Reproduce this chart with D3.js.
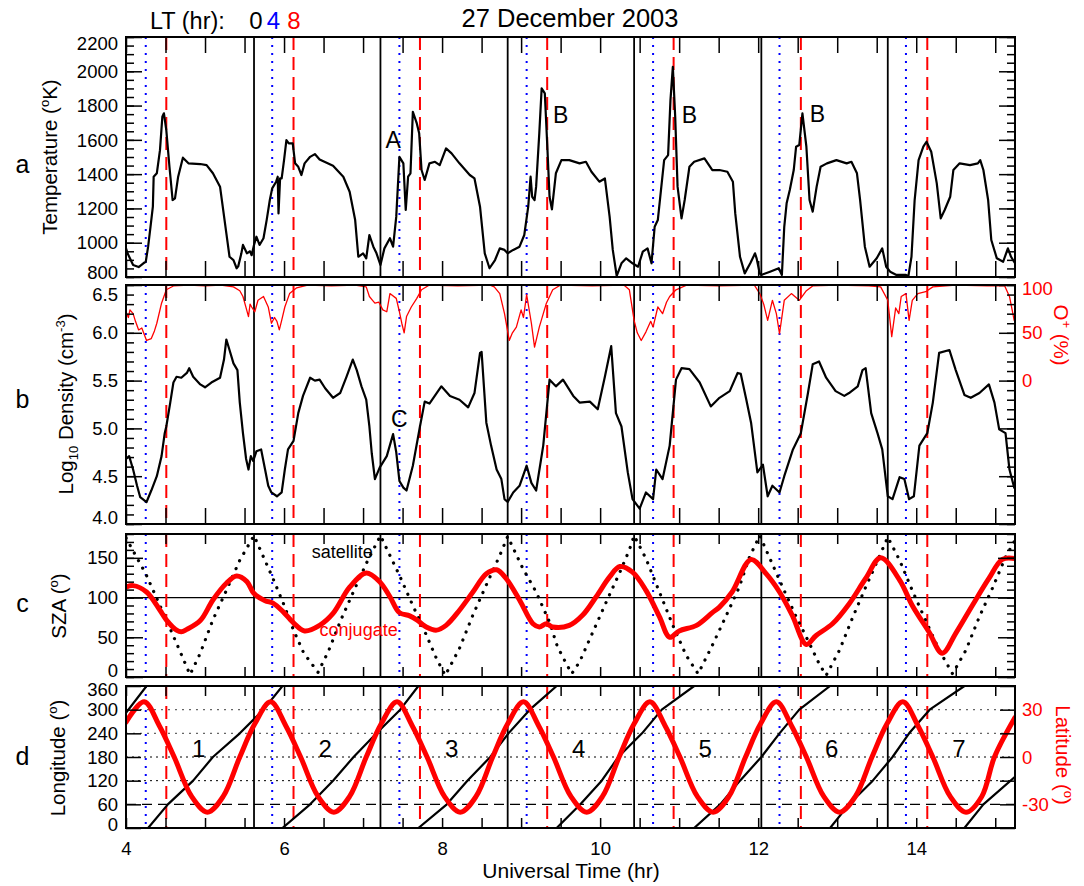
<!DOCTYPE html>
<html>
<head>
<meta charset="utf-8">
<script src="https://cdn.jsdelivr.net/npm/d3@7"></script>
<style>
  body { margin: 0; background: #fff; }
  svg { display: block; }
</style>
</head>
<body>
<script>
// ---- values, time in UT hours ----

var utLabels = [4, 6, 8, 10, 12, 14];
var tempTicks = [800, 1000, 1200, 1400, 1600, 1800, 2000, 2200];
var densTicks = [4.0, 4.5, 5.0, 5.5, 6.0, 6.5];
var oxyTicks = [0, 50, 100];
var szaTicks = [0, 50, 100, 150];
var lonTicks = [0, 60, 120, 180, 240, 300, 360];
var latTicks = [-30, 0, 30];

// satellite local time crossings
var ltMidnight = [5.62, 7.22, 8.83, 10.43, 12.04, 13.64];
var ltFour = [4.25, 5.85, 7.46, 9.07, 10.67, 12.27, 13.87];
var ltEight = [4.51, 6.12, 7.72, 9.33, 10.93, 12.54, 14.14];

// panel a: ion temperature (K)
var temperature = [
  [4.00,967],[4.02,938],[4.09,870],[4.16,858],[4.22,880],[4.25,889],[4.28,977],[4.31,1093],[4.34,1210],[4.35,1385],
  [4.39,1405],[4.43,1540],[4.46,1735],[4.48,1755],[4.51,1657],[4.55,1443],[4.59,1249],[4.62,1259],[4.66,1385],[4.72,1496],
  [4.79,1463],[4.94,1459],[5.02,1453],[5.10,1405],[5.19,1327],[5.27,1055],[5.31,918],[5.36,899],[5.40,851],[5.42,862],
  [5.46,938],[5.48,987],[5.53,938],[5.57,950],[5.59,927],[5.62,987],[5.65,1035],[5.69,987],[5.74,1026],[5.78,1132],
  [5.82,1249],[5.85,1317],[5.90,1356],[5.92,1385],[5.93,1171],[5.95,1375],[5.97,1375],[6.00,1482],[6.03,1599],[6.06,1580],
  [6.11,1580],[6.14,1463],[6.18,1443],[6.22,1395],[6.26,1463],[6.33,1501],[6.39,1517],[6.45,1486],[6.62,1449],[6.75,1385],
  [6.83,1297],[6.90,1132],[6.94,918],[7.00,938],[7.04,909],[7.08,1045],[7.13,977],[7.17,938],[7.22,870],[7.27,967],
  [7.34,1026],[7.38,977],[7.42,1152],[7.46,1501],[7.51,1463],[7.54,1191],[7.57,1385],[7.60,1405],[7.63,1764],[7.68,1696],
  [7.71,1638],[7.74,1424],[7.78,1366],[7.84,1463],[7.91,1472],[7.97,1453],[8.05,1550],[8.12,1521],[8.22,1463],[8.35,1395],
  [8.41,1375],[8.48,1210],[8.54,938],[8.60,851],[8.67,899],[8.73,967],[8.79,958],[8.83,938],[8.90,958],[8.98,977],
  [9.04,1045],[9.09,1210],[9.12,1385],[9.14,1268],[9.17,1249],[9.19,1327],[9.23,1638],[9.26,1900],[9.30,1871],[9.33,1579],
  [9.36,1268],[9.39,1195],[9.44,1405],[9.51,1482],[9.61,1482],[9.74,1463],[9.82,1472],[9.89,1414],[9.99,1356],[10.06,1375],
  [10.12,1152],[10.16,958],[10.21,806],[10.27,880],[10.33,909],[10.41,880],[10.48,860],[10.54,948],[10.60,967],[10.65,880],
  [10.69,1093],[10.73,1132],[10.77,1307],[10.81,1482],[10.86,1511],[10.89,1832],[10.92,2026],[10.95,1735],[10.98,1327],[11.03,1142],
  [11.07,1249],[11.13,1443],[11.19,1472],[11.32,1492],[11.42,1424],[11.51,1424],[11.61,1414],[11.68,1356],[11.71,1171],[11.77,918],
  [11.83,821],[11.90,880],[11.96,938],[11.98,909],[12.02,821],[12.04,812],[12.15,831],[12.26,851],[12.30,812],[12.33,1093],
  [12.36,1230],[12.40,1307],[12.45,1424],[12.48,1560],[12.52,1570],[12.56,1755],[12.61,1560],[12.65,1249],[12.69,1181],[12.74,1327],
  [12.79,1443],[12.87,1463],[12.99,1482],[13.12,1463],[13.18,1472],[13.25,1405],[13.29,1249],[13.35,977],[13.41,860],[13.50,909],
  [13.57,967],[13.62,860],[13.67,831],[13.75,812],[13.87,812],[13.90,802],[13.94,918],[13.98,1249],[14.03,1482],[14.09,1560],
  [14.13,1589],[14.19,1531],[14.26,1346],[14.31,1142],[14.36,1191],[14.43,1268],[14.47,1424],[14.55,1463],[14.68,1453],[14.78,1463],
  [14.81,1482],[14.85,1424],[14.91,1249],[14.95,1016],[15.02,909],[15.10,889],[15.16,967],[15.20,918],[15.25,880]
];

// panel b: log10 ion density (cm-3)
var density = [
  [4.00,4.68],[4.04,4.71],[4.09,4.57],[4.14,4.40],[4.18,4.28],[4.26,4.23],[4.32,4.35],[4.39,4.50],[4.45,4.71],[4.49,4.95],
  [4.51,5.02],[4.56,5.27],[4.60,5.48],[4.64,5.54],[4.70,5.53],[4.77,5.58],[4.80,5.63],[4.85,5.54],[4.94,5.46],[5.00,5.43],
  [5.08,5.48],[5.19,5.53],[5.24,5.72],[5.27,5.93],[5.31,5.82],[5.36,5.68],[5.41,5.61],[5.44,5.27],[5.48,4.95],[5.52,4.68],
  [5.55,4.57],[5.58,4.71],[5.61,4.66],[5.65,4.76],[5.71,4.78],[5.76,4.57],[5.80,4.40],[5.84,4.33],[5.91,4.29],[5.97,4.33],
  [6.01,4.57],[6.05,4.78],[6.12,4.87],[6.18,5.16],[6.24,5.34],[6.33,5.53],[6.39,5.50],[6.45,5.51],[6.52,5.42],[6.62,5.32],
  [6.71,5.37],[6.79,5.54],[6.87,5.72],[6.92,5.61],[6.98,5.44],[7.04,5.30],[7.08,5.02],[7.11,4.74],[7.15,4.47],[7.21,4.59],
  [7.30,4.71],[7.38,4.94],[7.42,4.75],[7.46,4.45],[7.51,4.38],[7.55,4.35],[7.63,4.61],[7.72,5.02],[7.78,5.28],[7.84,5.26],
  [7.99,5.44],[8.10,5.34],[8.22,5.30],[8.33,5.22],[8.41,5.37],[8.48,5.79],[8.50,5.80],[8.56,5.06],[8.62,4.82],[8.69,4.57],
  [8.75,4.47],[8.79,4.26],[8.83,4.23],[8.90,4.33],[8.98,4.40],[9.07,4.61],[9.13,4.43],[9.19,4.35],[9.28,4.82],[9.36,5.51],
  [9.44,5.44],[9.53,5.51],[9.66,5.34],[9.74,5.27],[9.87,5.28],[9.97,5.20],[10.06,5.54],[10.14,5.86],[10.20,5.16],[10.27,5.02],
  [10.35,4.54],[10.41,4.26],[10.50,4.16],[10.58,4.33],[10.67,4.26],[10.71,4.57],[10.79,4.47],[10.88,4.82],[10.96,5.51],[11.03,5.63],
  [11.13,5.62],[11.26,5.48],[11.40,5.23],[11.51,5.32],[11.64,5.39],[11.74,5.58],[11.78,5.57],[11.85,5.30],[11.91,5.06],[11.99,4.54],
  [12.06,4.62],[12.12,4.29],[12.18,4.40],[12.27,4.33],[12.33,4.50],[12.44,4.78],[12.54,4.95],[12.63,5.37],[12.69,5.67],[12.77,5.70],
  [12.86,5.53],[12.98,5.39],[13.09,5.34],[13.15,5.37],[13.26,5.44],[13.32,5.61],[13.36,5.63],[13.43,5.16],[13.51,4.95],[13.57,4.78],
  [13.64,4.29],[13.70,4.26],[13.79,4.49],[13.85,4.47],[13.91,4.26],[13.97,4.29],[14.04,4.82],[14.14,4.95],[14.21,5.27],[14.29,5.79],
  [14.42,5.82],[14.50,5.61],[14.61,5.35],[14.69,5.32],[14.80,5.37],[14.92,5.46],[14.99,5.27],[15.05,4.99],[15.13,4.95],[15.18,4.57],
  [15.24,4.38]
];

// panel b, right axis: O+ fraction (%)
var oxygenFraction = [
  [4.00,72],[4.03,66],[4.05,74],[4.09,70],[4.12,62],[4.16,53],[4.20,55],[4.26,42],[4.32,44],[4.36,52],[4.39,60],[4.45,81],
  [4.51,95],[4.60,99],[4.80,100],[5.00,99],[5.20,100],[5.36,98],[5.44,94],[5.48,88],[5.52,76],[5.55,67],[5.57,80],[5.59,77],[5.63,72],
  [5.67,84],[5.74,88],[5.80,77],[5.84,60],[5.88,66],[5.91,62],[5.94,53],[5.97,63],[6.01,77],[6.07,91],[6.16,97],[6.30,100],
  [6.60,99],[6.90,100],[7.04,98],[7.08,88],[7.12,84],[7.15,81],[7.20,82],[7.25,74],[7.30,72],[7.34,91],[7.42,86],
  [7.46,72],[7.49,60],[7.52,50],[7.55,67],[7.61,77],[7.68,86],[7.74,95],[7.84,100],[8.20,99],[8.60,100],[8.66,98],[8.73,91],
  [8.79,70],[8.85,42],[8.89,50],[8.94,56],[9.00,74],[9.03,66],[9.07,90],[9.13,60],[9.17,35],[9.23,56],[9.32,81],[9.40,95],
  [9.50,100],[9.90,99],[10.30,100],[10.37,95],[10.43,63],[10.47,50],[10.52,42],[10.58,51],[10.64,62],[10.67,56],[10.73,77],[10.79,70],
  [10.84,82],[10.88,88],[10.96,95],[11.10,100],[11.50,99],[11.95,100],[12.02,91],[12.07,80],[12.12,63],[12.18,84],[12.23,70],[12.27,49],[12.33,84],
  [12.42,91],[12.52,84],[12.61,94],[12.69,99],[13.00,100],[13.40,99],[13.55,98],[13.64,84],[13.69,46],[13.74,76],
  [13.78,70],[13.81,88],[13.87,91],[13.91,63],[13.95,84],[14.02,91],[14.12,93],[14.21,98],[14.50,100],[14.90,99],[15.12,99],
  [15.18,88],[15.24,63]
];

// panel c: solar zenith angle at the satellite (deg)
var szaSatellite = [
  [4.00,175],[4.25,130],[4.51,72],[4.65,40],[4.81,3],[4.94,30],[5.10,72],[5.27,109],[5.44,147],[5.62,178],
  [5.86,124],[5.99,93],[6.12,59],[6.25,30],[6.43,6],[6.56,32],[6.72,72],[6.89,110],[7.06,147],[7.22,178],
  [7.46,128],[7.63,90],[7.80,53],[7.93,23],[8.04,2],[8.22,36],[8.39,78],[8.56,116],[8.73,153],[8.83,177],
  [9.02,137],[9.19,107],[9.36,69],[9.46,38],[9.64,4],[9.74,19],[9.91,57],[10.08,95],[10.25,132],[10.37,160],[10.43,178],
  [10.58,149],[10.75,107],[10.92,65],[11.09,27],[11.24,4],[11.42,40],[11.59,76],[11.76,113],[11.89,151],[12.02,178],
  [12.14,151],[12.31,113],[12.48,76],[12.65,42],[12.77,17],[12.86,2],[13.03,34],[13.20,76],[13.36,113],[13.53,151],[13.64,176],
  [13.79,147],[13.95,109],[14.12,71],[14.29,34],[14.46,4],[14.63,34],[14.80,76],[14.97,113],[15.13,151],[15.25,172]
];

// panel c: solar zenith angle at the conjugate point (deg)
var szaConjugate = [
  [4.00,113],[4.09,115],[4.26,107],[4.43,84],[4.51,72],[4.64,59],[4.70,57],[4.77,60],[4.94,71],[5.10,97],
  [5.27,118],[5.40,127],[5.53,120],[5.62,105],[5.76,96],[5.86,93],[5.99,82],[6.12,68],[6.26,58],[6.45,65],
  [6.62,80],[6.83,113],[7.04,131],[7.21,120],[7.34,101],[7.46,81],[7.59,77],[7.68,72],[7.80,63],[7.93,59],
  [8.05,65],[8.22,84],[8.39,107],[8.56,130],[8.69,135],[8.81,124],[8.98,97],[9.15,67],[9.23,63],[9.32,67],
  [9.40,63],[9.61,65],[9.78,78],[9.95,101],[10.12,126],[10.25,139],[10.41,132],[10.58,109],[10.75,76],[10.88,50],
  [11.00,58],[11.22,65],[11.42,81],[11.51,88],[11.67,107],[11.91,148],[12.10,130],[12.27,107],[12.43,78],[12.61,41],
  [12.73,52],[12.94,67],[13.15,92],[13.36,124],[13.55,150],[13.79,122],[13.95,90],[14.16,57],[14.33,30],[14.50,55],
  [14.71,90],[14.92,124],[15.09,148],[15.25,149]
];

// panel d: geographic longitude (deg), wraps from 360 back to 0
var longitude = [
  [4.00,292],[4.26,360],
  [4.28,0],[4.53,60],[4.85,120],[5.10,180],[5.44,240],[5.74,300],[5.98,360],
  [5.98,0],[6.33,60],[6.62,120],[6.88,180],[7.17,240],[7.47,300],[7.70,360],
  [7.70,0],[8.06,60],[8.32,120],[8.61,180],[8.84,240],[9.11,300],[9.45,360],
  [9.45,0],[9.75,60],[10.02,120],[10.23,180],[10.53,240],[10.78,300],[11.19,360],
  [11.19,0],[11.52,60],[11.77,120],[12.04,180],[12.27,240],[12.52,300],[12.91,360],
  [12.91,0],[13.15,60],[13.45,120],[13.70,180],[13.91,240],[14.17,300],[14.61,360],
  [14.61,0],[14.85,60],[15.25,130]
];

// panel d, right axis: geographic latitude (deg)
var latitude = [
  [4.00,22],[4.23,35],[4.42,20],[4.61,0],[4.83,-25],[5.03,-35],[5.23,-25],[5.44,0],[5.63,21],
  [5.83,35],[6.02,20],[6.21,0],[6.43,-25],[6.63,-35],[6.83,-25],[7.04,0],[7.23,21],
  [7.43,35],[7.62,20],[7.81,0],[8.03,-25],[8.23,-35],[8.43,-25],[8.64,0],[8.83,21],
  [9.03,35],[9.22,20],[9.41,0],[9.63,-25],[9.83,-35],[10.03,-25],[10.24,0],[10.43,21],
  [10.63,35],[10.82,20],[11.01,0],[11.23,-25],[11.43,-35],[11.63,-25],[11.84,0],[12.03,21],
  [12.23,35],[12.42,20],[12.61,0],[12.83,-25],[13.03,-35],[13.23,-25],[13.44,0],[13.63,21],
  [13.83,35],[14.02,20],[14.21,0],[14.43,-25],[14.63,-35],[14.83,-25],[14.99,0],[15.25,25]
];

var orbitNumbers = ["1", "2", "3", "4", "5", "6", "7"];

// ---- drawing ----

var FONT = "'Liberation Sans', Arial, Helvetica, sans-serif";
var RED = "#ff0000", BLUE = "#0000ff";
var X0 = 126, X1 = 1015;
var TICK_FS = 18.5;

var svg = d3.select("body").append("svg")
  .attr("width", 1084).attr("height", 886)
  .style("font-family", FONT);

var x = d3.scaleLinear().domain([4, 15.25]).range([X0, X1]);
var xMinor = d3.range(4, 15.25, 0.5);

/**
 * Creates a panel group with a clipped layer for the data.
 */
function makePanel(id, top, bottom) {
  svg.append("clipPath").attr("id", "clip-" + id)
    .append("rect")
    .attr("x", X0).attr("y", top)
    .attr("width", X1 - X0).attr("height", bottom - top);
  var g = svg.append("g").attr("class", "panel-" + id);
  return {
    id: id, top: top, bottom: bottom, g: g,
    plot: g.append("g").attr("clip-path", "url(#clip-" + id + ")")
  };
}

function styleTicks(a) {
  a.select(".domain").remove();
  a.selectAll("line").attr("stroke", "#000").attr("stroke-width", 1.5);
}

// UT ticks on top and bottom, pointing inward
function xTicks(p, withLabels) {
  var len = Math.round((p.bottom - p.top) * 0.068);
  styleTicks(p.g.append("g").attr("transform", "translate(0," + p.bottom + ")")
    .call(d3.axisBottom(x).tickValues(xMinor).tickSizeInner(-len).tickSizeOuter(0).tickFormat("")));
  styleTicks(p.g.append("g").attr("transform", "translate(0," + p.top + ")")
    .call(d3.axisTop(x).tickValues(xMinor).tickSizeInner(-len).tickSizeOuter(0).tickFormat("")));
  if (withLabels) {
    var lab = p.g.append("g").attr("transform", "translate(0," + p.bottom + ")")
      .call(d3.axisBottom(x).tickValues(utLabels).tickSize(0).tickPadding(14).tickFormat(d3.format("d")));
    lab.select(".domain").remove();
    lab.selectAll("text")
      .attr("font-size", 18.5).attr("font-family", FONT).attr("fill", "#000");
  }
}

// inward y ticks on one side of a panel
function yTicks(p, scale, side, majors, minors, majorLen, minorLen) {
  var axisFn = side === "left" ? d3.axisLeft : d3.axisRight;
  var pos = side === "left" ? X0 : X1;
  if (minors) {
    styleTicks(p.g.append("g").attr("transform", "translate(" + pos + ",0)")
      .call(axisFn(scale).tickValues(minors).tickSizeInner(-(minorLen || 8)).tickSizeOuter(0).tickFormat("")));
  }
  styleTicks(p.g.append("g").attr("transform", "translate(" + pos + ",0)")
    .call(axisFn(scale).tickValues(majors).tickSizeInner(-(majorLen || 16)).tickSizeOuter(0).tickFormat("")));
}

// tick labels, the ones on the panel edges pulled inside like in the original
function yLabels(p, scale, side, values, fmt, color, insetTop, insetBottom) {
  p.g.selectAll(null).data(values).enter().append("text")
    .attr("x", side === "left" ? X0 - 8 : X1 + 7)
    .attr("y", function(d) {
      var y = scale(d);
      return Math.max(p.top + insetTop, Math.min(p.bottom - insetBottom, y));
    })
    .attr("dy", "0.36em")
    .attr("text-anchor", side === "left" ? "end" : "start")
    .attr("font-size", TICK_FS)
    .attr("fill", color)
    .text(fmt);
}

// vertical local-time markers
function ltLines(p) {
  var sets = [
    {ut: ltMidnight, stroke: "#000", dash: null, w: 1.8},
    {ut: ltFour, stroke: BLUE, dash: "2,6", w: 2},
    {ut: ltEight, stroke: RED, dash: "13,7", w: 2}
  ];
  sets.forEach(function(s) {
    p.plot.selectAll(null).data(s.ut).enter().append("line")
      .attr("x1", function(d) { return x(d); })
      .attr("x2", function(d) { return x(d); })
      .attr("y1", p.top).attr("y2", p.bottom)
      .attr("stroke", s.stroke).attr("stroke-width", s.w)
      .attr("stroke-dasharray", s.dash);
  });
}

function hLine(p, y, stroke, width, dash) {
  p.plot.append("line")
    .attr("x1", X0).attr("x2", X1).attr("y1", y).attr("y2", y)
    .attr("stroke", stroke).attr("stroke-width", width)
    .attr("stroke-dasharray", dash);
}

function series(p, data, sy, stroke, width, curve, dash) {
  var line = d3.line()
    .x(function(d) { return x(d[0]); })
    .y(function(d) { return sy(d[1]); })
    .curve(curve || d3.curveLinear);
  return p.plot.append("path").datum(data)
    .attr("d", line)
    .attr("fill", "none")
    .attr("stroke", stroke).attr("stroke-width", width)
    .attr("stroke-linejoin", "round").attr("stroke-linecap", "round")
    .attr("stroke-dasharray", dash || null);
}

function frame(p) {
  p.g.append("rect")
    .attr("x", X0).attr("y", p.top)
    .attr("width", X1 - X0).attr("height", p.bottom - p.top)
    .attr("fill", "none").attr("stroke", "#000").attr("stroke-width", 2);
}

function label(txt, px, py, size, color, anchor) {
  return svg.append("text")
    .attr("x", px).attr("y", py)
    .attr("font-size", size).attr("fill", color || "#000")
    .attr("text-anchor", anchor || "middle")
    .text(txt);
}

// rotated axis title made of [text, dy, fontSize] pieces
function axisTitle(px, py, angle, color, parts) {
  var t = svg.append("text")
    .attr("transform", "translate(" + px + "," + py + ") rotate(" + angle + ")")
    .attr("text-anchor", "middle").attr("font-size", 20.5).attr("fill", color);
  parts.forEach(function(pt) {
    var s = t.append("tspan").attr("dy", pt[1] || 0).text(pt[0]);
    if (pt[2]) s.attr("font-size", pt[2]);
  });
}

// ---- panel a: temperature ----
var pa = makePanel("a", 37, 277);
var yTemp = d3.scaleLinear().domain([800, 2200]).range([pa.bottom, pa.top]);
ltLines(pa);
series(pa, temperature, yTemp, "#000", 2.2);
xTicks(pa, false);
yTicks(pa, yTemp, "left", tempTicks, d3.range(800, 2201, 50));
yTicks(pa, yTemp, "right", tempTicks, d3.range(800, 2201, 50));
yLabels(pa, yTemp, "left", tempTicks, String, "#000", 6.5, 4.5);
frame(pa);

// ---- panel b: density and O+ ----
var pb = makePanel("b", 285, 524);
var yDens = d3.scaleLinear().domain([4.0, 6.5]).range([pb.bottom, pb.top]);
var yOxy = d3.scaleLinear().domain([-150, 100]).range([pb.bottom, pb.top]);
ltLines(pb);
series(pb, oxygenFraction, yOxy, RED, 1.3);
series(pb, density, yDens, "#000", 2.2);
xTicks(pb, false);
yTicks(pb, yDens, "left", densTicks, d3.range(40, 66).map(function(v) { return v / 10; }));
yTicks(pb, yOxy, "right", d3.range(-150, 101, 50), d3.range(-150, 101, 10));
yLabels(pb, yDens, "left", densTicks, d3.format(".1f"), "#000", 9, 6.5);
yLabels(pb, yOxy, "right", oxyTicks, String, RED, 3, 0);
frame(pb);

// ---- panel c: solar zenith angle ----
var pc = makePanel("c", 534, 677);
var ySza = d3.scaleLinear().domain([0, 180]).range([pc.bottom, pc.top]);
hLine(pc, ySza(100), "#000", 1.2);
ltLines(pc);
series(pc, szaSatellite, ySza, "#000", 3.2, d3.curveLinear, "0.1,8.5");
series(pc, szaConjugate, ySza, RED, 5, d3.curveCatmullRom);
xTicks(pc, false);
yTicks(pc, ySza, "left", szaTicks, d3.range(0, 181, 10), 17, 8);
yTicks(pc, ySza, "right", szaTicks, d3.range(0, 181, 10), 17, 8);
yLabels(pc, ySza, "left", szaTicks, String, "#000", 0, 7);
frame(pc);

// ---- panel d: longitude and latitude ----
var pd = makePanel("d", 686, 828);
var yLon = d3.scaleLinear().domain([0, 360]).range([pd.bottom, pd.top]);
var yLat = d3.scaleLinear().domain([-45, 45]).range([pd.bottom, pd.top]);
hLine(pd, yLon(300), "#666", 1.3, "2,5");
hLine(pd, yLon(240), "#666", 1.3, "2,5");
hLine(pd, yLon(180), "#000", 1, "2,4");
hLine(pd, yLon(120), "#000", 1, "2,4");
hLine(pd, yLon(60), "#000", 1.2, "10,6");
ltLines(pd);

// split the longitude track where it wraps past 360
var lonSegments = [];
longitude.forEach(function(d, i) {
  if (i === 0 || d[1] < longitude[i - 1][1]) lonSegments.push([]);
  lonSegments[lonSegments.length - 1].push(d);
});
lonSegments.forEach(function(seg) {
  series(pd, seg, yLon, "#000", 2.2);
});
series(pd, latitude, yLat, RED, 5, d3.curveCatmullRom);

xTicks(pd, true);
yTicks(pd, yLon, "left", lonTicks, null, 15);
yTicks(pd, yLat, "right", d3.range(-45, 46, 15), null, 15);
yLabels(pd, yLon, "left", lonTicks, String, "#000", 3.5, 4);
yLabels(pd, yLat, "right", latTicks, String, RED, 0, 0);
frame(pd);

// orbit numbers sit on the 180 deg line
var orbitUT = [4.92, 6.52, 8.12, 9.73, 11.33, 12.93, 14.54];
svg.selectAll(null).data(orbitNumbers).enter().append("text")
  .attr("x", function(d, i) { return x(orbitUT[i]); })
  .attr("y", yLon(180))
  .attr("text-anchor", "middle")
  .attr("font-size", 24)
  .text(function(d) { return d; });

// ---- annotations ----
label("A", x(7.38), yTemp(1555), 23);
label("B", x(9.50), yTemp(1700), 23);
label("B", x(11.13), yTemp(1700), 23);
label("B", x(12.75), yTemp(1705), 23);
label("C", x(7.46), yDens(5.01), 23);
label("satellite", x(6.35), ySza(150), 18, "#000", "start");
label("conjugate", x(6.45), ySza(52), 18, RED, "start");

// ---- titles ----
label("27 December 2003", 570, 26.5, 25.5);
label("LT (hr):", 150, 29, 23.5, "#000", "start");
label("0", 256, 29, 24);
label("4", 273.5, 29, 24, BLUE);
label("8", 294, 29, 24, RED);
label("Universal Time (hr)", 571, 877.5, 21);

label("a", 22.5, 173.3, 25);
label("b", 22.5, 408, 25);
label("c", 22.5, 611.7, 25);
label("d", 22.5, 765, 25);

axisTitle(57, 157, -90, "#000", [["Temperature ("], ["o", -8, 13], ["K)", 8]]);
axisTitle(73, 404, -90, "#000", [["Log"], ["10", 5, 13], [" Density (cm", -5], ["-3", -8, 13], [")", 8]]);
axisTitle(66, 606, -90, "#000", [["SZA ("], ["o", -8, 13], [")", 8]]);
axisTitle(65, 758, -90, "#000", [["Longitude ("], ["o", -8, 13], [")", 8]]);
axisTitle(1054, 335, 90, RED, [["O"], ["+", -8, 13], [" (%)", 8]]);
axisTitle(1056, 755, 90, RED, [["Latitude ("], ["o", -8, 13], [")", 8]]);
</script>
</body>
</html>
